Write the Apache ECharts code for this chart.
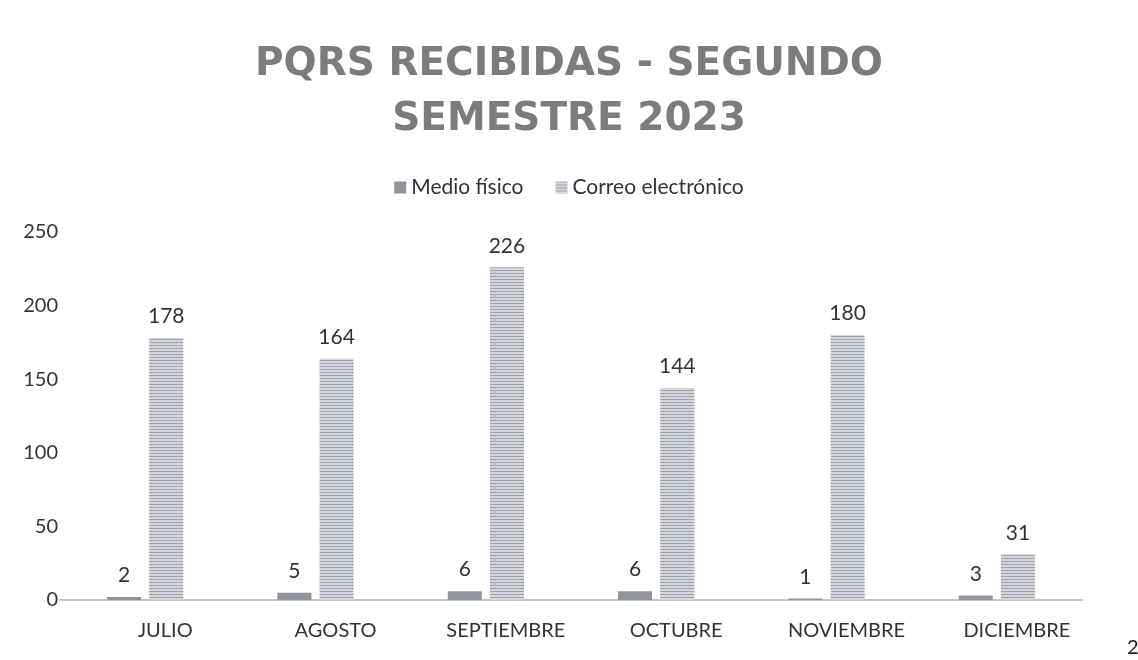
<!DOCTYPE html>
<html>
<head>
<meta charset="utf-8">
<script src="https://cdn.jsdelivr.net/npm/echarts@6/dist/echarts.min.js"></script>
<style>
  html, body { margin: 0; padding: 0; background: #fff; }
  #chart { width: 1138px; height: 660px; }
</style>
</head>
<body>
<div id="chart"></div>
<script>
// datos del gráfico
const meses = ['JULIO', 'AGOSTO', 'SEPTIEMBRE', 'OCTUBRE', 'NOVIEMBRE', 'DICIEMBRE']
const medioFisico = [2, 5, 6, 6, 1, 3]
const correoElectronico = [178, 164, 226, 144, 180, 31]

const chart = echarts.init(document.getElementById('chart'))

const labelStyle = {
  show: true,
  position: 'top',
  distance: 11,
  color: '#333',
  fontSize: 21,
  fontFamily: 'Lato, sans-serif'
}

const option = {
  backgroundColor: '#fff',
  title: {
    text: 'PQRS RECIBIDAS - SEGUNDO\nSEMESTRE 2023',
    left: 'center',
    top: 32,
    textStyle: {
      color: '#7c7c7c',
      fontSize: 39,
      fontWeight: 'bold',
      fontFamily: '"DejaVu Sans", sans-serif',
      lineHeight: 55
    }
  },
  legend: {
    top: 172,
    left: 'center',
    itemWidth: 12,
    itemHeight: 12,
    itemGap: 32,
    icon: 'rect',
    textStyle: {
      color: '#333',
      fontSize: 21,
      fontFamily: 'Lato, sans-serif'
    },
    data: ['Medio físico', 'Correo electrónico']
  },
  grid: {
    left: 60,
    right: 56,
    top: 232,
    bottom: 60
  },
  xAxis: {
    type: 'category',
    data: meses,
    axisLine: { lineStyle: { color: '#c4c4c4', width: 2 } },
    axisTick: { show: false },
    axisLabel: {
      color: '#333',
      fontSize: 20,
      fontFamily: 'Lato, sans-serif',
      margin: 21,
      padding: [0, 0, 0, 40]
    }
  },
  yAxis: {
    type: 'value',
    min: 0,
    max: 250,
    interval: 50,
    splitLine: { show: false },
    axisLine: { show: false },
    axisTick: { show: false },
    axisLabel: {
      color: '#333',
      fontSize: 20,
      fontFamily: 'Lato, sans-serif',
      margin: 2
    }
  },
  series: [
    {
      name: 'Medio físico',
      type: 'bar',
      data: medioFisico,
      barWidth: 34,
      barGap: '24%',
      itemStyle: { color: '#8e939c' },
      label: labelStyle
    },
    {
      name: 'Correo electrónico',
      type: 'bar',
      data: correoElectronico,
      barWidth: 34,
      itemStyle: {
        color: '#d4d6dc',
        decal: {
          symbol: 'rect',
          color: '#9ea3ae',
          dashArrayX: [1, 0],
          dashArrayY: [1, 2],
          rotation: 0
        }
      },
      label: labelStyle
    }
  ],
  graphic: [
    {
      type: 'text',
      left: 1127,
      top: 638,
      style: { text: '2', fill: '#222', fontSize: 20, fontFamily: 'Lato, sans-serif' }
    }
  ]
}

chart.setOption(option)
</script>
</body>
</html>
